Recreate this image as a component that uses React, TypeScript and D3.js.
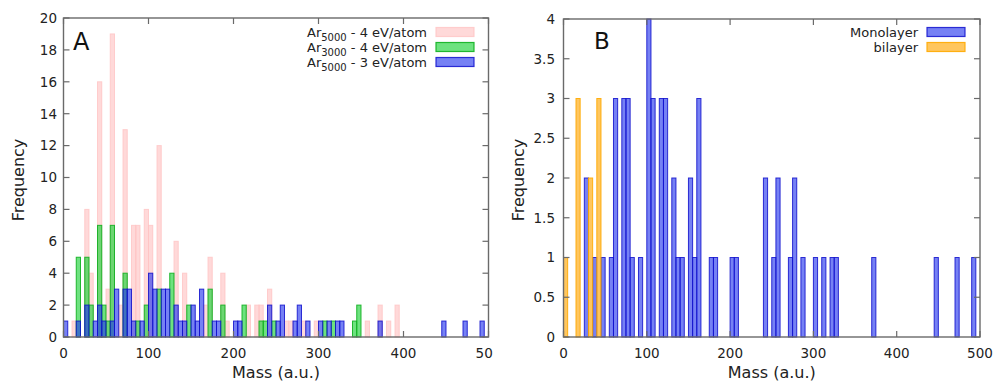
import React from "react";
import * as d3 from "d3";

// ---------- data ----------
const BIN = 5;
const massTicks = [0, 100, 200, 300, 400, 500];
const freqTicksA = [0, 2, 4, 6, 8, 10, 12, 14, 16, 18, 20];
const freqTicksB = [0, 0.5, 1, 1.5, 2, 2.5, 3, 3.5, 4];

// Panel A: Ar5000 - 4 eV/atom (pink)
const ar5000_4eV_mass = [10, 25, 30, 40, 50, 55, 65, 70, 80, 85, 95, 100, 110, 130, 140, 165, 170, 185, 190, 215, 225, 230, 240, 260, 265, 280, 295, 355, 370, 380, 390];
const ar5000_4eV_freq = [1, 8, 4, 16, 3, 19, 2, 13, 7, 7, 8, 7, 12, 6, 4, 2, 5, 4, 1, 2, 2, 2, 3, 1, 1, 1, 1, 1, 2, 1, 2];

// Panel A: Ar3000 - 4 eV/atom (green)
const ar3000_4eV_mass = [15, 25, 30, 40, 45, 50, 55, 70, 85, 95, 110, 125, 145, 170, 185, 210, 230, 235, 245, 305, 315, 340, 345];
const ar3000_4eV_freq = [5, 5, 2, 7, 2, 1, 7, 4, 1, 2, 3, 4, 2, 3, 2, 2, 1, 1, 1, 1, 1, 1, 2];

// Panel A: Ar5000 - 3 eV/atom (blue)
const ar5000_3eV_mass = [0, 15, 25, 35, 40, 45, 55, 60, 70, 75, 80, 90, 100, 105, 115, 120, 130, 135, 140, 150, 155, 160, 175, 180, 200, 205, 240, 250, 255, 270, 275, 285, 300, 310, 320, 325, 370, 445, 470, 490];
const ar5000_3eV_freq = [1, 1, 2, 1, 2, 1, 1, 3, 3, 3, 1, 1, 4, 3, 3, 3, 2, 1, 1, 2, 1, 3, 1, 1, 1, 1, 2, 1, 2, 1, 2, 1, 1, 1, 1, 1, 1, 1, 1, 1];

// Panel B
const monolayerMass = [25, 35, 45, 55, 60, 70, 75, 80, 90, 100, 105, 115, 120, 130, 135, 140, 150, 155, 160, 175, 180, 200, 205, 240, 250, 255, 270, 275, 285, 300, 310, 320, 325, 370, 445, 470, 490];
const monolayerFreq = [2, 1, 1, 1, 3, 3, 3, 1, 1, 4, 3, 3, 3, 2, 1, 1, 2, 1, 3, 1, 1, 1, 1, 2, 1, 2, 1, 2, 1, 1, 1, 1, 1, 1, 1, 1, 1];
const bilayerMass = [0, 15, 30, 40];
const bilayerFreq = [1, 3, 2, 3];

const FONT = "'DejaVu Sans', sans-serif";
const FRAME = "#6a6a6a";

const PINK = { fill: "#ffb3b3", fo: 0.5, stroke: "#ffc4c4", so: 0.8 };
const GREEN = { fill: "#1ed23a", fo: 0.65, stroke: "#10b020", so: 0.9 };
const BLUE = { fill: "#2233ee", fo: 0.62, stroke: "#1010cc", so: 0.85 };
const ORANGE = { fill: "#ffb020", fo: 0.72, stroke: "#ffaa00", so: 0.9 };

type Style = { fill: string; fo: number; stroke: string; so: number };

function Bars({ mass, freq, x, y, st }: { mass: number[]; freq: number[]; x: any; y: any; st: Style }) {
  return (
    <g>
      {mass.map((m, i) => (
        <rect
          key={i}
          x={x(m)}
          y={y(freq[i])}
          width={x(m + BIN) - x(m)}
          height={y(0) - y(freq[i])}
          fill={st.fill}
          fillOpacity={st.fo}
          stroke={st.stroke}
          strokeOpacity={st.so}
          strokeWidth={1}
        />
      ))}
    </g>
  );
}

function Frame({ x, y, yTicks, yLabels, labelX }: { x: any; y: any; yTicks: number[]; yLabels: string[]; labelX: number }) {
  const [x0, x1] = x.range();
  const [y0, y1] = y.range();
  const tl = 6;
  return (
    <g>
      {massTicks.map((t) => (
        <g key={"x" + t}>
          <line x1={x(t)} x2={x(t)} y1={y0} y2={y0 - tl} stroke={FRAME} strokeWidth={1.2} />
          <line x1={x(t)} x2={x(t)} y1={y1} y2={y1 + tl} stroke={FRAME} strokeWidth={1.2} />
          <text x={x(t)} y={358} textAnchor="middle" fontSize={13.5} fontFamily={FONT} fill="#222">
            {t}
          </text>
        </g>
      ))}
      {yTicks.map((t, i) => (
        <g key={"y" + t}>
          <line x1={x0} x2={x0 + tl} y1={y(t)} y2={y(t)} stroke={FRAME} strokeWidth={1.2} />
          <line x1={x1} x2={x1 - tl} y1={y(t)} y2={y(t)} stroke={FRAME} strokeWidth={1.2} />
          <text x={labelX} y={y(t)} dy="0.36em" textAnchor="end" fontSize={13.5} fontFamily={FONT} fill="#222">
            {yLabels[i]}
          </text>
        </g>
      ))}
      <rect x={x0} y={y1} width={x1 - x0} height={y0 - y1} fill="none" stroke={FRAME} strokeWidth={1.4} />
    </g>
  );
}

function LegendRow({ tx, cy, st, children }: { tx: number; cy: number; st: Style; children: any }) {
  return (
    <g>
      <text x={tx} y={cy} dy="0.35em" textAnchor="end" fontSize={13} fontFamily={FONT} fill="#222">
        {children}
      </text>
      <rect x={tx + 9} y={cy - 4.5} width={38} height={9} fill={st.fill} fillOpacity={st.fo} stroke={st.stroke} strokeOpacity={st.so} strokeWidth={1.2} />
    </g>
  );
}

function Ar({ n, rest }: { n: string; rest: string }) {
  return (
    <>
      Ar
      <tspan fontSize={10} dy={4}>
        {n}
      </tspan>
      <tspan dy={-4}>{rest}</tspan>
    </>
  );
}

export default function App() {
  const xA = d3.scaleLinear().domain([0, 500]).range([63.5, 488.5]);
  const yA = d3.scaleLinear().domain([0, 20]).range([337, 18]);
  const xB = d3.scaleLinear().domain([0, 500]).range([563.5, 980]);
  const yB = d3.scaleLinear().domain([0, 4]).range([337, 19]);

  return (
    <svg
      width={994}
      height={382}
      viewBox="0 0 994 382"
      style={{ position: "absolute", left: 0, top: 0, background: "#fff" }}
    >
      <defs>
        <clipPath id="clipA">
          <rect x={0} y={0} width={493} height={382} />
        </clipPath>
      </defs>
      <rect x={0} y={0} width={994} height={382} fill="#fff" />

      {/* Panel A */}
      <g clipPath="url(#clipA)">
        <Bars mass={ar5000_4eV_mass} freq={ar5000_4eV_freq} x={xA} y={yA} st={PINK} />
        <Bars mass={ar3000_4eV_mass} freq={ar3000_4eV_freq} x={xA} y={yA} st={GREEN} />
        <Bars mass={ar5000_3eV_mass} freq={ar5000_3eV_freq} x={xA} y={yA} st={BLUE} />
        <Frame x={xA} y={yA} yTicks={freqTicksA} yLabels={freqTicksA.map(String)} labelX={57} />
        <text x={73} y={49.5} fontSize={24} fontFamily={FONT} fill="#111">A</text>
        <LegendRow tx={427} cy={32} st={PINK}>
          <Ar n="5000" rest=" - 4 eV/atom" />
        </LegendRow>
        <LegendRow tx={427} cy={47} st={GREEN}>
          <Ar n="3000" rest=" - 4 eV/atom" />
        </LegendRow>
        <LegendRow tx={427} cy={62} st={BLUE}>
          <Ar n="5000" rest=" - 3 eV/atom" />
        </LegendRow>
        <text x={xA(250)} y={378} textAnchor="middle" fontSize={16} fontFamily={FONT} fill="#222">Mass (a.u.)</text>
        <text transform="translate(24,180) rotate(-90)" textAnchor="middle" fontSize={16} fontFamily={FONT} fill="#222">Frequency</text>
      </g>

      {/* Panel B */}
      <g>
        <Bars mass={monolayerMass} freq={monolayerFreq} x={xB} y={yB} st={BLUE} />
        <Bars mass={bilayerMass} freq={bilayerFreq} x={xB} y={yB} st={ORANGE} />
        <Frame x={xB} y={yB} yTicks={freqTicksB} yLabels={freqTicksB.map(String)} labelX={555} />
        <text x={594} y={49} fontSize={23} fontFamily={FONT} fill="#111">B</text>
        <LegendRow tx={918} cy={32} st={BLUE}>Monolayer</LegendRow>
        <LegendRow tx={918} cy={47} st={ORANGE}>bilayer</LegendRow>
        <text x={xB(250)} y={378} textAnchor="middle" fontSize={16} fontFamily={FONT} fill="#222">Mass (a.u.)</text>
        <text transform="translate(524,180) rotate(-90)" textAnchor="middle" fontSize={16} fontFamily={FONT} fill="#222">Frequency</text>
      </g>
    </svg>
  );
}
